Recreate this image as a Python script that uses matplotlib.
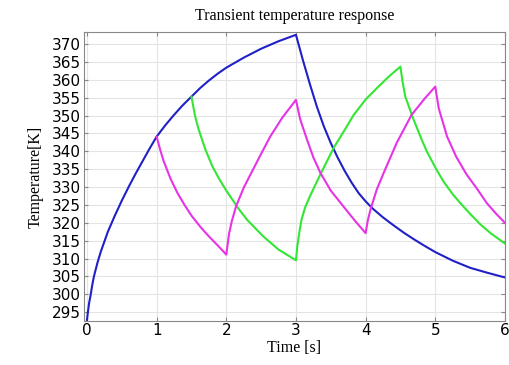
import numpy as np
import matplotlib.pyplot as plt

# Values (time in s, temperature in K)
t_blue = [0, 0.01, 0.03, 0.05, 0.075, 0.1, 0.15, 0.2, 0.3, 0.4, 0.5, 0.6, 0.7, 0.8, 0.9,
          1.0, 1.125, 1.25, 1.375, 1.5, 1.625, 1.75, 1.875, 2.0, 2.25, 2.5, 2.75, 3.0,
          3.1, 3.2, 3.3, 3.4, 3.5, 3.6, 3.7, 3.8, 3.9, 4.0, 4.1, 4.25, 4.4, 4.55, 4.7,
          4.85, 5.0, 5.25, 5.5, 5.75, 6.0]
T_blue = [292.8, 294.5, 297.5, 299.5, 302.5, 305, 308.8, 312, 317.5, 322, 326.2, 330.1, 333.8, 337.3, 340.8,
          344.1, 347.3, 350.2, 352.9, 355.3, 357.7, 359.8, 361.7, 363.4, 366.2, 368.7, 370.8, 372.6,
          365.5, 358.8, 352.5, 347, 342.3, 338.2, 334.5, 331.2, 328.3, 326, 324, 321.5, 319.3, 317.2, 315.3,
          313.5, 311.8, 309.4, 307.4, 306, 304.7]

t_magenta = [1.0, 1.05, 1.1, 1.2, 1.3, 1.4, 1.5, 1.63, 1.75, 1.87, 2.0,
             2.04, 2.08, 2.14, 2.25, 2.36, 2.5, 2.63, 2.8, 3.0,
             3.06, 3.16, 3.25, 3.35, 3.5, 3.68, 3.85, 4.0,
             4.03, 4.07, 4.16, 4.26, 4.45, 4.66, 4.85, 5.0,
             5.05, 5.17, 5.3, 5.45, 5.6, 5.74, 5.87, 6.0]
T_magenta = [344.1, 340.5, 337.3, 332.3, 328.3, 325, 322, 318.8, 316.2, 313.8, 311.1,
             317, 320.5, 324.6, 329.8, 334, 339.3, 344.1, 349.3, 354.4,
             349, 343.2, 338.3, 334, 329, 324.6, 320.5, 317.1,
             320.5, 323.7, 329.3, 334, 342.5, 350.2, 354.8, 358.1,
             352, 344.1, 338.5, 333.5, 329.5, 325.5, 322.6, 320]

t_green = [1.5, 1.55, 1.6, 1.7, 1.8, 1.9, 2.0, 2.17, 2.3, 2.53, 2.75, 3.0,
           3.02, 3.05, 3.08, 3.13, 3.2, 3.35, 3.54, 3.7, 3.83, 4.0, 4.21, 4.35, 4.5,
           4.53, 4.57, 4.69, 4.8, 4.88, 5.02, 5.12, 5.25, 5.36, 5.5, 5.65, 5.8, 6.0]
T_green = [355.3, 350, 346.3, 340.5, 335.8, 332.2, 329, 324.1, 320.8, 316.2, 312.5, 309.5,
           313.5, 317.5, 320.9, 324.2, 327.4, 333.5, 340.9, 346, 350.2, 354.5, 358.6, 361.2, 363.7,
           359.5, 355.3, 348.8, 343.5, 339.9, 334.8, 331.5, 328, 325.5, 322.5, 319.5, 317, 314.2]

xticks = [0, 1, 2, 3, 4, 5, 6]
yticks = list(range(295, 371, 5))

fig = plt.figure(figsize=(5.09, 3.65), dpi=100)
ax = fig.add_axes([0.165, 0.1214, 0.827, 0.7906])

ax.plot(t_blue, T_blue, color='#2020c8', lw=1.5)
ax.plot(t_green, T_green, color='#33e633', lw=1.5)
ax.plot(t_magenta, T_magenta, color='#e633e6', lw=1.5)

ax.set_xlim(-0.043, 6.0)
ax.set_ylim(292.6, 373.35)
ax.set_xticks(xticks)
ax.set_yticks(yticks)
ax.grid(True, color='#e4e4e4', lw=0.8)
ax.set_axisbelow(True)
ax.tick_params(direction='in', length=3, color='#888888', top=True, right=True,
               labelsize=11, pad=2)
for s in ax.spines.values():
    s.set_color('#888888')

ax.set_title('Transient temperature response', family='Liberation Serif', fontsize=11.5, pad=9)
ax.set_xlabel('Time [s]', family='Liberation Serif', fontsize=11.5, labelpad=1)
ax.set_ylabel('Temperature[K]', family='Liberation Serif', fontsize=11.5, labelpad=6)

fig.savefig('out.png', dpi=100)
